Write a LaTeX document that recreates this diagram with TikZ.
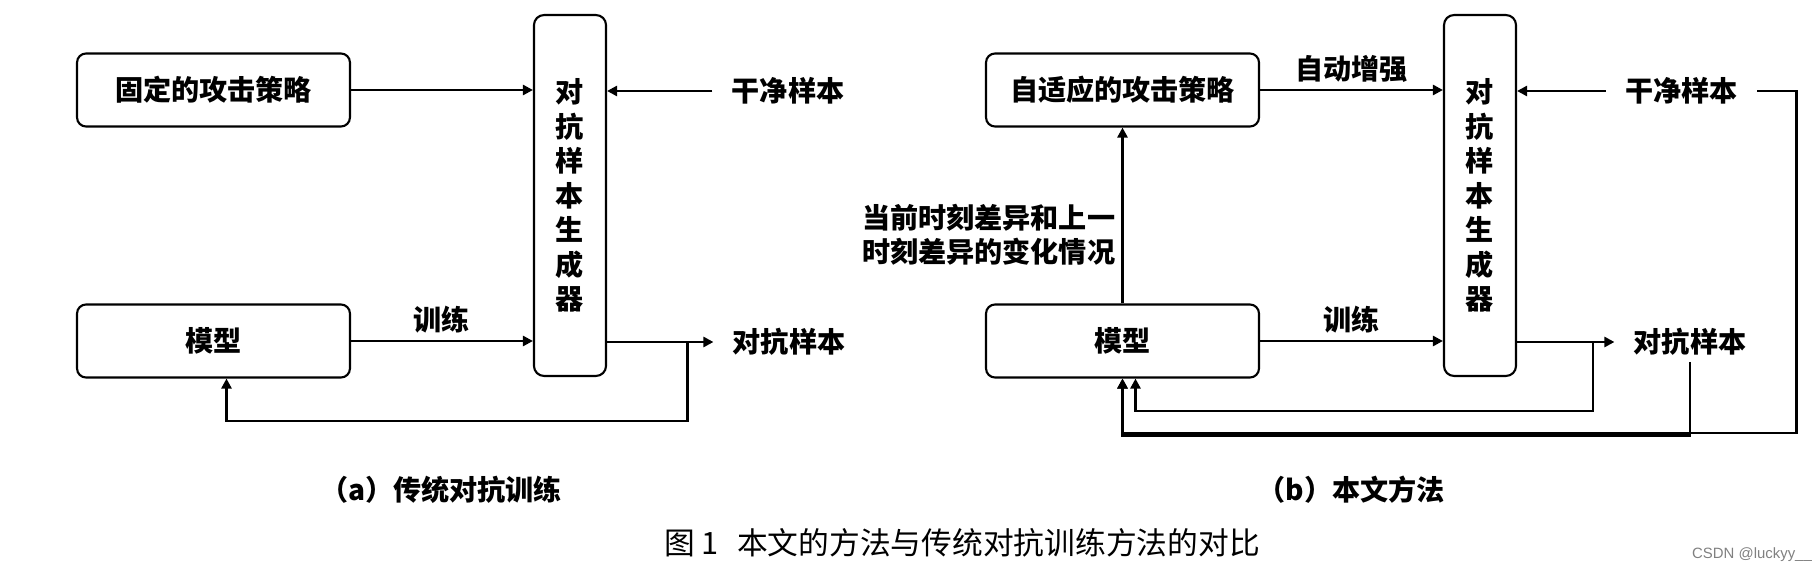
\documentclass[tikz,border=0pt]{standalone}
\usepackage{fontspec}
\setmainfont{Noto Sans CJK SC}
\setsansfont{Liberation Sans}
\usetikzlibrary{arrows.meta,positioning,calc}

\begin{document}
\begin{tikzpicture}[
    x=0.02cm, y=-0.02cm,
    every node/.style={font=\bfseries\fontsize{16}{19.6}\selectfont},
    block/.style={rectangle, draw, line width=1.2pt, rounded corners=0.18cm, minimum width=5.46cm, minimum height=1.46cm},
    generator/.style={rectangle, draw, line width=1.2pt, rounded corners=0.2cm, minimum width=1.44cm, minimum height=7.22cm, align=center},
    sample/.style={inner xsep=0.38cm},
    arrow/.style={-{Triangle[length=0.2cm, width=0.2cm]}, line width=1.65pt},
    line/.style={line width=1.65pt}
]
\useasboundingbox (0,0) rectangle (1820,571);

% (a) Traditional
\node[block] (fixed) at (213.5,90) {固定的攻击策略};
\node[block] (modela) at (213.5,341) {模型};
\node[generator] (gena) at (570,195.5) {对\\抗\\样\\本\\生\\成\\器};
\node[sample] (cleana) at (788,91) {干净样本};
\node[sample] (adva) at (789,342) {对抗样本};

% (b) Ours
\node[block] (adapt) at (1122.5,90) {自适应的攻击策略};
\node[block] (modelb) at (1122.5,341) {模型};
\node[generator] (genb) at (1480,195.5) {对\\抗\\样\\本\\生\\成\\器};
\node[sample] (cleanb) at (1681.5,91) {干净样本};
\node[sample] (advb) at (1690,342) {对抗样本};

% Arrows (a)
\draw[arrow] (fixed.east) -- (fixed.east -| gena.west);
\draw[arrow] (cleana.west) -- (cleana.west -| gena.east);
\draw[arrow] (modela.east) -- (modela.east -| gena.west) node[midway, above] {训练};
\draw[arrow] (gena.east |- adva.west) -- (adva.west) coordinate[pos=0.755] (forka);
\draw[arrow] (forka) -- ++(0,79) -| ([xshift=0.26cm]modela.south);

% Arrows (b)
\draw[arrow] (adapt.east) -- (adapt.east -| genb.west) node[midway, above] {自动增强};
\draw[arrow] (cleanb.west) -- (cleanb.west -| genb.east);
\draw[arrow] (modelb.east) -- (modelb.east -| genb.west) node[midway, above] {训练};
\draw[arrow] (modelb.north) -- (adapt.south)
    node[pos=0.39, left, align=left] {当前时刻差异和上一\\时刻差异的变化情况};
\draw[arrow] (genb.east |- advb.west) -- (advb.west) coordinate[pos=0.78] (forkb);
\draw[arrow] (forkb) -- ++(0,69) -| ([xshift=0.26cm]modelb.south);
\draw[arrow] (cleanb.east) -- ++(39,0) -- ++(0,342) -| (modelb.south);
\draw[arrow] (advb.south) -- (advb.south |- 0,435.5) -| (modelb.south);

% Captions
\node (capa) at (441,490) {（a）传统对抗训练};
\node (capb) at (1351,490) {（b）本文方法};
\node[font=\fontsize{17.5}{20}\selectfont] (title) at (962,543) {图~1\hspace{0.6em}本文的方法与传统对抗训练方法的对比};
\node[font=\sffamily\fontsize{8.5}{10}\selectfont, text=gray] (mark) at (1752,555) {CSDN @luckyy\_\_};

\end{tikzpicture}
\end{document}
